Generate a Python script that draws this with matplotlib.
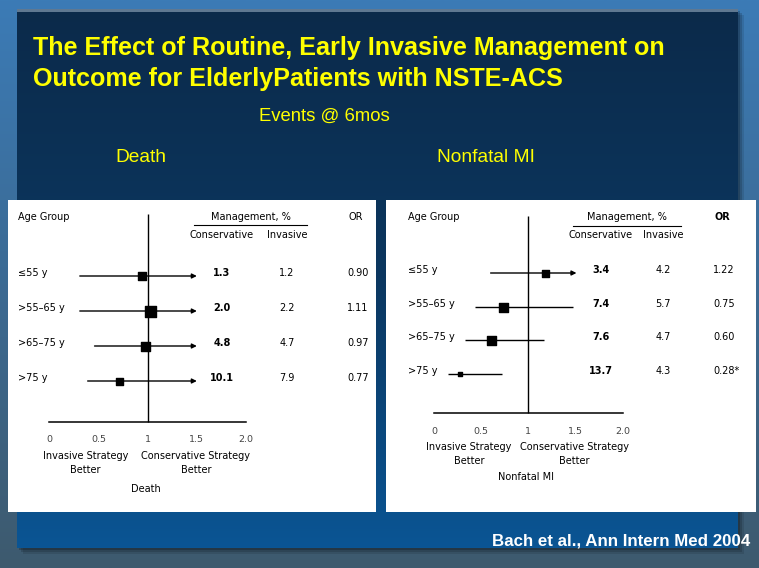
import numpy as np
import matplotlib
matplotlib.use("Agg")
import matplotlib.pyplot as plt
from matplotlib.patches import Rectangle
from matplotlib.colors import LinearSegmentedColormap

# ---------------- data ----------------
groups = ['≤55 y', '>55–65 y', '>65–75 y', '>75 y']

death_cons = ['1.3', '2.0', '4.8', '10.1']
death_inv = ['1.2', '2.2', '4.7', '7.9']
death_or = ['0.90', '1.11', '0.97', '0.77']
death_point = [0.94, 1.02, 0.97, 0.71]
death_lo = [0.31, 0.31, 0.46, 0.39]
death_hi = [1.50, 1.50, 1.50, 1.50]
death_arrow = [True, True, True, True]

mi_cons = ['3.4', '7.4', '7.6', '13.7']
mi_inv = ['4.2', '5.7', '4.7', '4.3']
mi_or = ['1.22', '0.75', '0.60', '0.28*']
mi_point = [1.18, 0.73, 0.60, 0.28]
mi_lo = [0.60, 0.43, 0.33, 0.15]
mi_hi = [1.51, 1.47, 1.17, 0.72]
mi_arrow = [True, False, False, False]

x_ticks = [0, 0.5, 1, 1.5, 2]
x_tick_labels = ['0', '0.5', '1', '1.5', '2.0']

# ---------------- figure ----------------
W, H = 759, 568
fig = plt.figure(figsize=(W / 100, H / 100), dpi=100)
bg = fig.add_axes([0, 0, 1, 1])
bg.set_xlim(0, W)
bg.set_ylim(H, 0)
bg.axis('off')

# outer background gradient
outer = LinearSegmentedColormap.from_list('o', ['#3b7bb6', '#3c6a93', '#3e5a6e'])
bg.imshow(np.linspace(0, 1, 256).reshape(-1, 1), cmap=outer, aspect='auto',
          extent=(0, W, H, 0), zorder=0)
# soft shadow
for k, a in [(6, 0.10), (4, 0.15), (2, 0.2)]:
    bg.add_patch(Rectangle((17 + k, 9 + k), 721, 539, color='black', alpha=a, lw=0, zorder=1))
# dark panel gradient
panel = LinearSegmentedColormap.from_list('p', ['#0b2a4a', '#0c3760', '#0a5594'])
bg.imshow(np.linspace(0, 1, 256).reshape(-1, 1), cmap=panel, aspect='auto',
          extent=(17, 738, 548, 9), zorder=2)
bg.add_patch(Rectangle((17, 9), 721, 3, color='#5f7891', lw=0, zorder=3))

# white panels
bg.add_patch(Rectangle((8, 200), 368, 312, color='white', lw=0, zorder=4))
bg.add_patch(Rectangle((386, 200), 370, 312, color='white', lw=0, zorder=4))

# titles
yellow = '#ffff00'
tfont = dict(family='Liberation Sans', fontweight='bold', color=yellow, zorder=5)
bg.text(33, 48, 'The Effect of Routine, Early Invasive Management on', fontsize=18.1,
        va='center', ha='left', **tfont)
bg.text(33, 79, 'Outcome for ElderlyPatients with NSTE-ACS', fontsize=18.1,
        va='center', ha='left', **tfont)
nfont = dict(family='Liberation Sans', color=yellow, zorder=5)
bg.text(324, 116, 'Events @ 6mos', fontsize=13.3, ha='center', va='center', **nfont)
bg.text(141, 157, 'Death', fontsize=13.8, ha='center', va='center', **nfont)
bg.text(486, 157, 'Nonfatal MI', fontsize=13.8, ha='center', va='center', **nfont)
bg.text(750, 541, 'Bach et al., Ann Intern Med 2004', fontsize=12.2, ha='right',
        va='center', family='Liberation Sans', fontweight='bold', color='white', zorder=5)


def forest(px0, px1, zero_px, unit_px, row_y0, row_dy, top_y, axis_y,
           cols, header, point, lo, hi, arrow, cons, inv, orv, box, or_bold,
           tick_y, lab_y, name, name_y, lab_x):
    # axes covering the white panel; x in OR units, y in pixels
    ax = fig.add_axes([px0 / W, (H - 512) / H, (px1 - px0) / W, 312 / H])
    ax.set_xlim((px0 - zero_px) / unit_px, (px1 - zero_px) / unit_px)
    ax.set_ylim(512, 200)
    ax.patch.set_visible(False)
    for s in ['top', 'right', 'left']:
        ax.spines[s].set_visible(False)
    ax.spines['bottom'].set_position(('data', axis_y))
    ax.spines['bottom'].set_bounds(0, 2)
    ax.spines['bottom'].set_linewidth(1.1)
    ax.set_yticks([])
    ax.set_xticks(x_ticks)
    ax.set_xticklabels(x_tick_labels, fontsize=6.8, color='#444444', family='DejaVu Sans')
    ax.tick_params(axis='x', length=0, pad=tick_y - axis_y - 6)
    ax.vlines(1, top_y, axis_y, color='black', lw=1)

    for i in range(len(groups)):
        y = row_y0 + i * row_dy
        if arrow[i]:
            ax.annotate('', xy=(hi[i], y), xytext=(lo[i], y),
                        arrowprops=dict(arrowstyle='-|>', color='black', lw=1,
                                        mutation_scale=7, shrinkA=0, shrinkB=0))
        else:
            ax.hlines(y, lo[i], hi[i], color='black', lw=1)
        ax.scatter([point[i]], [y], marker='s', s=(box[i] * 0.72) ** 2,
                   color='black', zorder=5)

    tf = dict(family='DejaVu Sans', fontsize=7, color='black', va='center', zorder=6)
    c_cons, c_inv, c_or, underline = cols
    bg.text(lab_x, 217, 'Age Group', ha='left', **tf)
    bg.text((underline[0] + underline[1]) / 2, 217, 'Management, %', ha='center', **tf)
    bg.plot(underline, [header, header], color='black', lw=0.8, zorder=6)
    bg.text(c_cons, 235, 'Conservative', ha='center', **tf)
    bg.text(c_inv, 235, 'Invasive', ha='center', **tf)
    bg.text(c_or + 9, 217, 'OR', ha='center',
            fontweight='bold' if or_bold else 'normal', **tf)
    for i in range(len(groups)):
        y = row_y0 + i * row_dy
        bg.text(lab_x, y - 3, groups[i], ha='left', **tf)
        bg.text(c_cons, y - 3, cons[i], ha='center', fontweight='bold', **tf)
        bg.text(c_inv, y - 3, inv[i], ha='center', **tf)
        bg.text(c_or, y - 3, orv[i], ha='left', **tf)
    to_px = lambda v: zero_px + v * unit_px
    lf = dict(family='DejaVu Sans', fontsize=7, ha='center', va='center', zorder=6)
    bg.text(to_px(0.37), lab_y, 'Invasive Strategy', **lf)
    bg.text(to_px(0.37), lab_y + 14, 'Better', **lf)
    bg.text(to_px(1.49), lab_y, 'Conservative Strategy', **lf)
    bg.text(to_px(1.49), lab_y + 14, 'Better', **lf)
    bg.text(to_px(0.98), name_y, name, **lf)
    return ax


forest(8, 376, 49.3, 98.35, 276, 35, 214, 422,
       (222, 287, 347, (194, 307)), 225,
       death_point, death_lo, death_hi, death_arrow,
       death_cons, death_inv, death_or, [8, 11, 9, 7], False,
       437, 456, 'Death', 489, 18)

forest(386, 756, 434, 94.35, 273, 33.7, 216, 413,
       (601, 663, 713, (573, 681)), 226,
       mi_point, mi_lo, mi_hi, mi_arrow,
       mi_cons, mi_inv, mi_or, [7, 9, 9, 5], True,
       429, 447, 'Nonfatal MI', 477, 408)

fig.savefig('out.png', dpi=100)
